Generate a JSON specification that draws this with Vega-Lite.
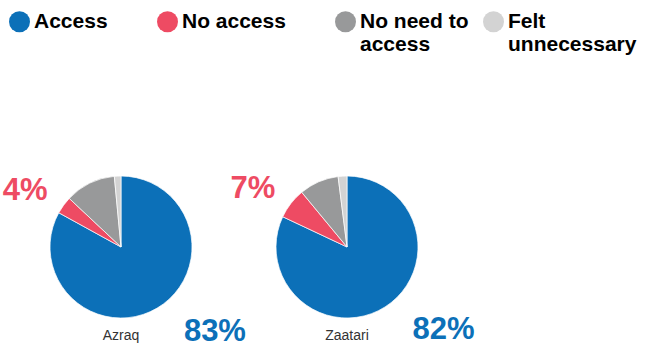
{
  "$schema": "https://vega.github.io/schema/vega-lite/v6.json",
  "padding": {"left": 2, "top": 11, "right": 0, "bottom": 0},
  "bounds": "flush",
  "data": {
    "values": [
      {"site": "Azraq", "category": "Access", "value": 0.83},
      {"site": "Azraq", "category": "No access", "value": 0.04},
      {"site": "Azraq", "category": "No need to access", "value": 0.115},
      {"site": "Azraq", "category": "Felt unnecessary", "value": 0.015},
      {"site": "Zaatari", "category": "Access", "value": 0.82},
      {"site": "Zaatari", "category": "No access", "value": 0.07},
      {"site": "Zaatari", "category": "No need to access", "value": 0.09},
      {"site": "Zaatari", "category": "Felt unnecessary", "value": 0.02}
    ]
  },
  "transform": [
    {"calculate": "indexof(['Access','No access','No need to access','Felt unnecessary'], datum.category)", "as": "ord"}
  ],
  "facet": {
    "column": {
      "field": "site",
      "type": "nominal",
      "sort": ["Azraq", "Zaatari"],
      "header": {
        "title": null,
        "labelOrient": "bottom",
        "labelFont": "Liberation Sans",
        "labelFontSize": 14,
        "labelColor": "#333333",
        "labelPadding": 2
      }
    }
  },
  "spacing": 26,
  "spec": {
    "width": 200,
    "height": 160,
    "layer": [
      {
        "mark": {"type": "arc", "outerRadius": 71, "stroke": "white", "strokeWidth": 0.7},
        "encoding": {
          "theta": {"field": "value", "type": "quantitative", "stack": true},
          "order": {"field": "ord", "type": "quantitative"},
          "color": {
            "field": "category",
            "type": "nominal",
            "scale": {
              "domain": ["Access", "No access", "No need to access", "Felt unnecessary"],
              "range": ["#0C70B8", "#EE4B63", "#98999A", "#D3D3D3"]
            },
            "legend": {
              "title": null,
              "orient": "none",
              "legendX": -12,
              "legendY": -156,
              "direction": "horizontal",
              "columnPadding": 14,
              "symbolType": "circle",
              "symbolSize": 441,
              "symbolStrokeWidth": 0,
              "symbolOpacity": 1,
              "labelFont": "Liberation Sans",
              "labelFontSize": 21,
              "labelFontWeight": "bold",
              "labelOffset": 4,
              "labelLimit": 300,
              "labelLineHeight": 23,
              "labelExpr": "datum.label == 'No need to access' ? ['No need to', 'access'] : datum.label == 'Felt unnecessary' ? ['Felt', 'unnecessary'] : datum.label == 'Access' ? ['Access\u00a0\u00a0\u00a0\u00a0\u00a0\u00a0\u200b', ''] : ['No access\u00a0\u00a0\u00a0\u00a0\u00a0\u00a0\u200b', '']",
              "encode": {
                "labels": {
                  "update": {
                    "fill": {"scale": "color", "field": "value"}
                  }
                }
              }
            }
          }
        }
      },
      {
        "mark": {"type": "text", "radius": 100, "dx": 43, "dy": -1, "fontSize": 31, "fontWeight": "bold", "font": "Liberation Sans", "color": "#0C70B8", "align": "center", "baseline": "middle"},
        "encoding": {
          "theta": {"field": "value", "type": "quantitative", "stack": true},
          "order": {"field": "ord", "type": "quantitative"},
          "detail": {"field": "category", "type": "nominal"},
          "text": {
            "condition": {"test": "datum.category === 'Access'", "field": "value", "type": "quantitative", "format": ".0%"},
            "value": ""
          }
        }
      },
      {
        "mark": {"type": "text", "radius": 100, "dx": -15, "dy": 3, "fontSize": 31, "fontWeight": "bold", "font": "Liberation Sans", "color": "#EE4B63", "align": "center", "baseline": "middle"},
        "encoding": {
          "theta": {"field": "value", "type": "quantitative", "stack": true},
          "order": {"field": "ord", "type": "quantitative"},
          "detail": {"field": "category", "type": "nominal"},
          "text": {
            "condition": {"test": "datum.category === 'No access'", "field": "value", "type": "quantitative", "format": ".0%"},
            "value": ""
          }
        }
      }
    ]
  },
  "config": {"view": {"stroke": null}}
}
